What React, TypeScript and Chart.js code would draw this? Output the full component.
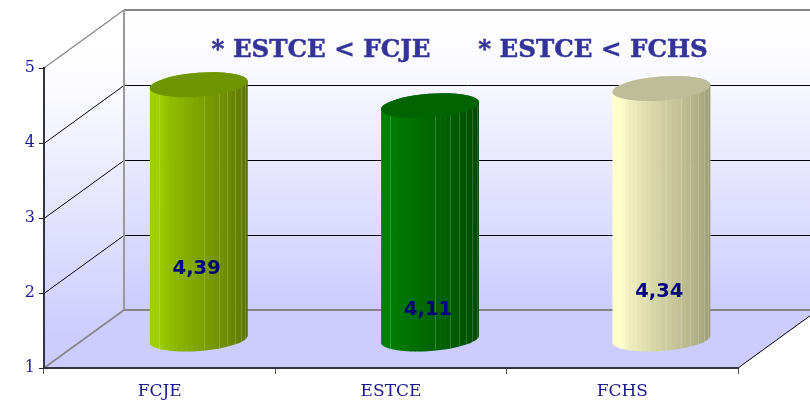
import React, { useEffect, useRef } from "react";
import { Chart, registerables } from "chart.js";

Chart.register(...registerables);

const categories = ["FCJE", "ESTCE", "FCHS"];
const scores = [4.39, 4.11, 4.34];
const labelAnchors = [1.93, 1.39, 1.63];
const noteLeft = "* ESTCE < FCJE";
const noteRight = "* ESTCE < FCHS";

const faces = [
  { light: [158, 208, 0], dark: [84, 106, 0], cap: "#6f9600" },
  { light: [0, 128, 0], dark: [0, 70, 0], cap: "#006400" },
  { light: [255, 255, 204], dark: [148, 148, 110], cap: "#bdbd99" },
];

const DEPTH_X = 80;
const DEPTH_Y = 58;
const TILT = -0.075;
const MINOR = 12;

const mix = (a: number[], b: number[], t: number) =>
  `rgb(${a.map((v, i) => Math.round(v + (b[i] - v) * t)).join(",")})`;

const scene = {
  id: "scene",
  beforeDraw(chart: any) {
    const { ctx, scales } = chart;
    const x = scales.x;
    const y = scales.y;
    const L = x.left;
    const R = x.right;
    const y1 = y.getPixelForValue(1);
    const y5 = y.getPixelForValue(5);
    ctx.save();

    const wall = ctx.createLinearGradient(0, y5 - DEPTH_Y, 0, y1 - DEPTH_Y);
    wall.addColorStop(0, "#ffffff");
    wall.addColorStop(0.15, "#fcfcff");
    wall.addColorStop(1, "#ccccff");
    ctx.fillStyle = wall;
    ctx.fillRect(L + DEPTH_X, y5 - DEPTH_Y, R - L, y1 - y5);

    const side = ctx.createLinearGradient(0, y5 - DEPTH_Y / 2, 0, y1 - DEPTH_Y / 2);
    side.addColorStop(0, "#ffffff");
    side.addColorStop(0.15, "#fcfcff");
    side.addColorStop(1, "#ccccff");
    ctx.fillStyle = side;
    ctx.beginPath();
    ctx.moveTo(L, y5);
    ctx.lineTo(L + DEPTH_X, y5 - DEPTH_Y);
    ctx.lineTo(L + DEPTH_X, y1 - DEPTH_Y);
    ctx.lineTo(L, y1);
    ctx.closePath();
    ctx.fill();

    ctx.fillStyle = "#ccccff";
    ctx.beginPath();
    ctx.moveTo(L, y1);
    ctx.lineTo(L + DEPTH_X, y1 - DEPTH_Y);
    ctx.lineTo(R + DEPTH_X, y1 - DEPTH_Y);
    ctx.lineTo(R, y1);
    ctx.closePath();
    ctx.fill();

    const line = (x0: number, y0: number, x2: number, y2: number, c: string, w: number) => {
      ctx.strokeStyle = c;
      ctx.lineWidth = w;
      ctx.beginPath();
      ctx.moveTo(x0, y0);
      ctx.lineTo(x2, y2);
      ctx.stroke();
    };
    for (const v of [2, 3, 4]) {
      const py = Math.round(y.getPixelForValue(v)) + 0.5;
      line(L, py, L + DEPTH_X, py - DEPTH_Y, "#000000", 1);
      line(L + DEPTH_X, py - DEPTH_Y, R + DEPTH_X, py - DEPTH_Y, "#000000", 1);
    }
    const gray = "#858585";
    line(L, y5, L + DEPTH_X, y5 - DEPTH_Y, gray, 1.2);
    line(L, y1, L + DEPTH_X, y1 - DEPTH_Y, gray, 1.6);
    line(L + DEPTH_X, y5 - DEPTH_Y, R + DEPTH_X, y5 - DEPTH_Y, gray, 2);
    line(L + DEPTH_X, y1 - DEPTH_Y, R + DEPTH_X, y1 - DEPTH_Y, gray, 2);
    line(L + DEPTH_X, y5 - DEPTH_Y, L + DEPTH_X, y1 - DEPTH_Y, "#999999", 2);
    line(R, y1, R + DEPTH_X, y1 - DEPTH_Y, "#000000", 1);
    ctx.restore();
  },
  afterDatasetsDraw(chart: any) {
    const { ctx, scales } = chart;
    const bars = chart.getDatasetMeta(0).data;
    const cos = Math.cos(TILT);
    const sin = Math.sin(TILT);

    ctx.save();
    ctx.textAlign = "center";
    ctx.textBaseline = "middle";
    ctx.font = 'bold 24.5px "DejaVu Serif"';
    ctx.fillStyle = "#333399";
    ctx.strokeStyle = "#333399";
    ctx.lineWidth = 0.5;
    ctx.fillText(noteLeft, 321, 51);
    ctx.strokeText(noteLeft, 321, 51);
    ctx.fillText(noteRight, 593, 51);
    ctx.strokeText(noteRight, 593, 51);
    ctx.restore();

    bars.forEach((bar: any, i: number) => {
      const { x, y, width } = bar.getProps(["x", "y", "width"], true);
      const cx = x + DEPTH_X / 2 - 1;
      const top = y - DEPTH_Y / 2;
      const bottom = scales.y.getPixelForValue(1) - DEPTH_Y / 2;
      const a = width / 2;
      const face = faces[i];

      ctx.save();
      ctx.beginPath();
      ctx.ellipse(cx, top, a, MINOR, TILT, Math.PI, 0, false);
      ctx.lineTo(cx + a * cos, bottom + a * sin);
      ctx.ellipse(cx, bottom, a, MINOR, TILT, 0, Math.PI, false);
      ctx.closePath();
      ctx.clip();

      const steps = 30;
      for (let s = 0; s < steps; s++) {
        const t0 = Math.PI - (Math.PI * s) / steps;
        const t1 = Math.PI - (Math.PI * (s + 1)) / steps;
        const x0 = cx + a * Math.cos(t0);
        const x1 = cx + a * Math.cos(t1);
        const p = (s + 0.5) / steps;
        const shade = p < 0.2 ? 0 : Math.pow((p - 0.2) / 0.8, 0.85);
        ctx.fillStyle = mix(face.light, face.dark, shade);
        ctx.fillRect(x0, top - 20, x1 - x0 + 0.6, bottom - top + 50);
      }
      ctx.strokeStyle = "rgba(255,255,255,0.18)";
      ctx.lineWidth = 1;
      for (const s of [6, 16, 19, 21, 23, 25, 27]) {
        const px = Math.round(cx + a * Math.cos(Math.PI - (Math.PI * s) / steps)) + 0.5;
        ctx.beginPath();
        ctx.moveTo(px, top);
        ctx.lineTo(px, bottom + 20);
        ctx.stroke();
      }
      ctx.restore();

      ctx.fillStyle = face.cap;
      ctx.beginPath();
      ctx.ellipse(cx, top, a, MINOR, TILT, 0, Math.PI * 2);
      ctx.fill();
    });

    ctx.save();
    ctx.font = 'bold 19.5px "DejaVu Sans"';
    ctx.fillStyle = "#000080";
    ctx.textAlign = "center";
    ctx.textBaseline = "middle";
    bars.forEach((bar: any, i: number) => {
      const text = scores[i].toFixed(2).replace(".", ",");
      const py = scales.y.getPixelForValue(labelAnchors[i]) - DEPTH_Y / 2;
      ctx.fillText(text, bar.x + DEPTH_X / 2 - 3, py);
    });
    ctx.restore();
  },
};

export default function App() {
  const ref = useRef<HTMLCanvasElement>(null);
  useEffect(() => {
    const chart = new Chart(ref.current!, {
      type: "bar",
      data: {
        labels: categories,
        datasets: [
          {
            data: scores,
            backgroundColor: "transparent",
            borderWidth: 0,
            barPercentage: 0.424,
            categoryPercentage: 1,
          },
        ],
      },
      options: {
        animation: false,
        responsive: false,
        layout: { padding: { left: 0, right: 72, top: 68, bottom: 0 } },
        plugins: { legend: { display: false }, tooltip: { enabled: false }, title: { display: false } },
        scales: {
          x: {
            afterFit: (s: any) => {
              s.height = 32;
            },
            border: { color: "#333344", width: 2 },
            grid: { drawOnChartArea: false, drawTicks: true, tickLength: 6, color: "#555555" },
            ticks: { color: "#1a1a8c", font: { family: "DejaVu Serif", size: 17 }, padding: 7 },
          },
          y: {
            min: 1,
            max: 5,
            afterFit: (s: any) => {
              s.width = 44;
            },
            border: { color: "#333344", width: 2 },
            grid: { drawOnChartArea: false, drawTicks: true, tickLength: 5, color: "#222222" },
            ticks: { stepSize: 1, color: "#1a1a99", font: { family: "DejaVu Serif", size: 16 }, padding: 4 },
          },
        },
      },
      plugins: [scene],
    } as any);
    return () => chart.destroy();
  }, []);
  return (
    <div style={{ position: "fixed", left: 0, top: 0, width: 810, height: 400, background: "#fff" }}>
      <canvas ref={ref} width={810} height={400} style={{ display: "block" }} />
    </div>
  );
}
